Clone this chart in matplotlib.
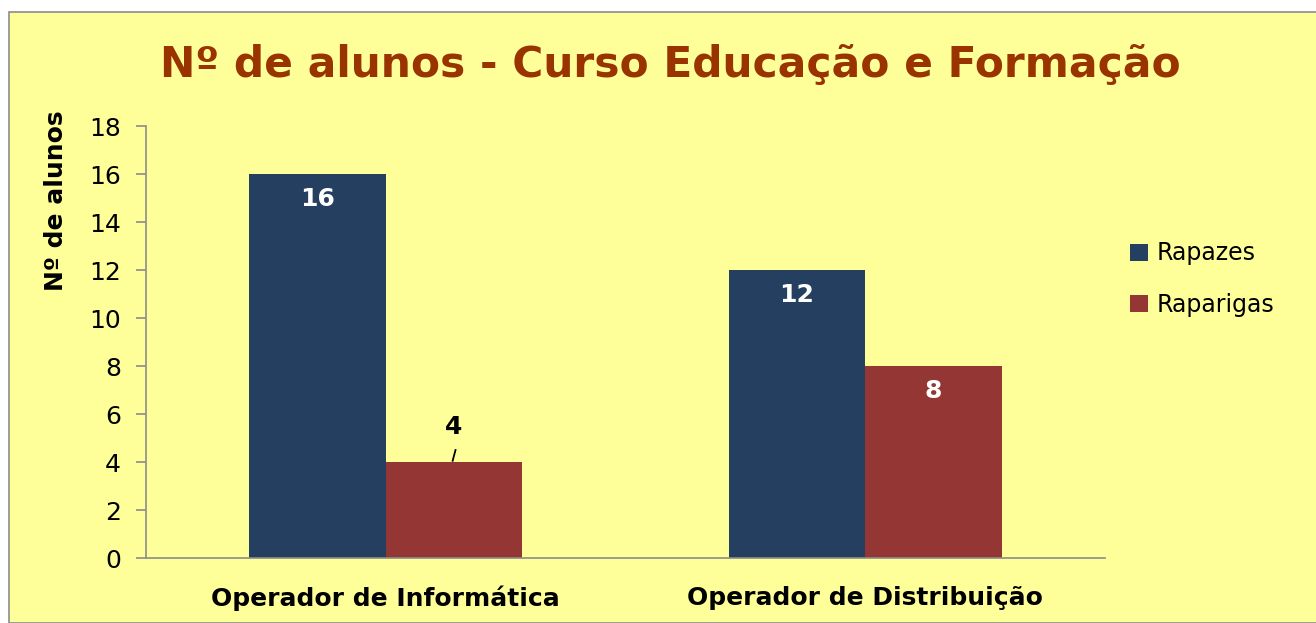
import matplotlib
matplotlib.use("Agg")
import matplotlib.pyplot as plt
from matplotlib.patches import Rectangle
import numpy as np

categories = ["Operador de Informática", "Operador de Distribuição"]
series_names = ["Rapazes", "Raparigas"]
rapazes = [16, 12]
raparigas = [4, 8]
yticks = [0, 2, 4, 6, 8, 10, 12, 14, 16, 18]

W, H = 1316, 623
fig = plt.figure(figsize=(W/100, H/100), dpi=100)
fig.patch.set_facecolor("white")
fig.patches.append(Rectangle((9/W, 0), 1, 1 - 12/H, transform=fig.transFigure,
                             facecolor="#FFFF99", edgecolor="#8C8C8C", linewidth=1.2, zorder=-10))

ax = fig.add_axes([146/W, 1 - 558/H, (1105-146)/W, (558-126)/H])
ax.set_facecolor("none")

x = np.arange(len(categories))
bw = 0.285
blue = "#253F60"
red = "#943634"
b1 = ax.bar(x - bw/2, rapazes, bw, color=blue, label=series_names[0], zorder=2)
b2 = ax.bar(x + bw/2, raparigas, bw, color=red, label=series_names[1], zorder=2)

ax.set_xlim(-0.5, 1.5)
ax.set_ylim(0, 18)
ax.set_yticks(yticks)
ax.set_xticks(x)
ax.set_xticklabels(categories, fontsize=18, fontweight="bold")
ax.tick_params(axis="y", labelsize=18, length=7, color="#8C8C8C", width=1.2, pad=11)
ax.tick_params(axis="x", length=0, pad=20)
for s in ["top", "right"]:
    ax.spines[s].set_visible(False)
for s in ["left", "bottom"]:
    ax.spines[s].set_color("#8C8C8C")
    ax.spines[s].set_linewidth(1.2)

ax.set_ylabel("Nº de alunos", fontsize=18, fontweight="bold")
ax.yaxis.set_label_coords(-(146-68)/(1105-146), (558-201)/(558-126))

# data labels
for xi, v in zip(x - bw/2, rapazes):
    ax.text(xi, v - 0.55, str(v), ha="center", va="top", color="white",
            fontsize=18, fontweight="bold", zorder=3)
for i, (xi, v) in enumerate(zip(x + bw/2, raparigas)):
    if v < 6:
        ax.text(xi, v + 0.95, str(v), ha="center", va="bottom", color="black",
                fontsize=18, fontweight="bold", zorder=3)
        ax.plot([xi - 0.003, xi + 0.003], [v + 0.05, v + 0.5], color="black", lw=1.3, zorder=3)
    else:
        ax.text(xi, v - 0.55, str(v), ha="center", va="top", color="white",
                fontsize=18, fontweight="bold", zorder=3)

fig.text(670/W, 1 - 65/H, "Nº de alunos - Curso Educação e Formação", ha="center", va="center",
         fontsize=30.5, fontweight="bold", color="#993300")

leg = ax.legend(loc="upper left", bbox_to_anchor=((1121-146)/(1105-146), (558-232)/(558-126)),
                frameon=False, fontsize=17, handlelength=0.75, handleheight=0.75,
                handletextpad=0.35, labelspacing=1.15, borderaxespad=0)

fig.savefig("out.png", dpi=100, facecolor=fig.get_facecolor())
